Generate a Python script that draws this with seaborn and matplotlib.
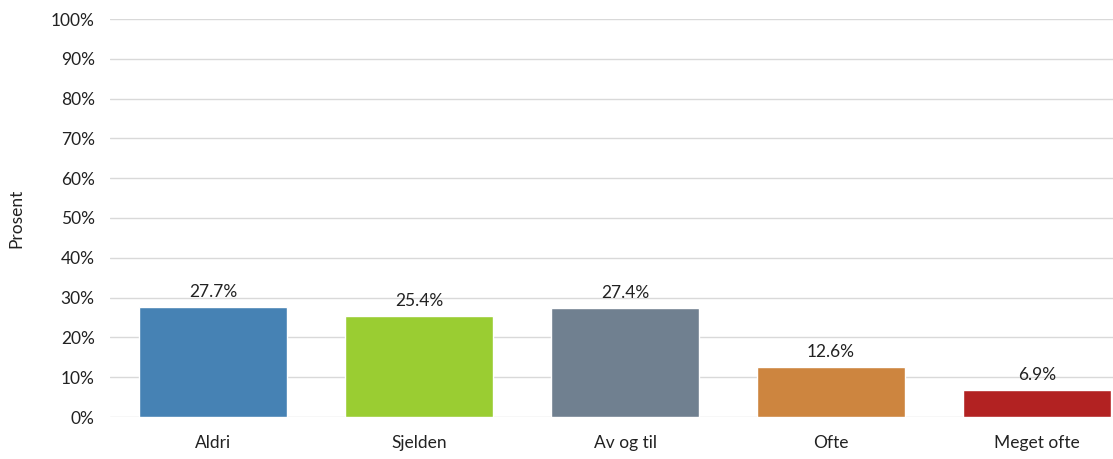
import matplotlib
matplotlib.use("Agg")
import matplotlib.pyplot as plt
import seaborn as sns
import pandas as pd
from matplotlib.ticker import FuncFormatter

categories = ["Aldri", "Sjelden", "Av og til", "Ofte", "Meget ofte"]
values = [27.7, 25.4, 27.4, 12.6, 6.9]
colors = ["#4682B4", "#9ACD32", "#708090", "#CD853F", "#B22222"]
y_ticks = [0, 10, 20, 30, 40, 50, 60, 70, 80, 90, 100]

sns.set_theme(style="white")
plt.rcParams["font.family"] = ["Lato", "DejaVu Sans"]

df = pd.DataFrame({"kategori": categories, "prosent": values})

fig = plt.figure(figsize=(11.13, 4.59), dpi=100)
ax = fig.add_axes([110 / 1113, 42 / 459, 1003 / 1113, 398 / 459])

sns.barplot(data=df, x="kategori", y="prosent", hue="kategori",
            palette=colors, order=categories, hue_order=categories,
            width=0.714, legend=False, ax=ax, saturation=1, zorder=3)

ax.set_ylim(0, 100)
ax.set_xlim(-0.5, 4.5 - 27 / 206)
ax.set_yticks(y_ticks)
ax.yaxis.set_major_formatter(FuncFormatter(lambda v, p: f"{int(v)}%"))
ax.grid(axis="y", color="#d9d9d9", linewidth=1, zorder=0)
ax.set_axisbelow(True)
for s in ax.spines.values():
    s.set_visible(False)
fs = 12.5
ax.tick_params(axis="y", length=0, pad=11, labelsize=fs, colors="#222222")
ax.tick_params(axis="x", length=0, pad=13, labelsize=fs, colors="#222222")
ax.set_xlabel("")
ax.set_ylabel("Prosent", fontsize=fs, color="#222222", labelpad=19)

for cont in ax.containers:
    for bar in cont:
        h = bar.get_height()
        ax.annotate(f"{h:.1f}%", (bar.get_x() + bar.get_width() / 2, h),
                    xytext=(0, 5), textcoords="offset points",
                    ha="center", va="bottom", fontsize=fs, color="#222222")

fig.savefig("out.png", dpi=100)
